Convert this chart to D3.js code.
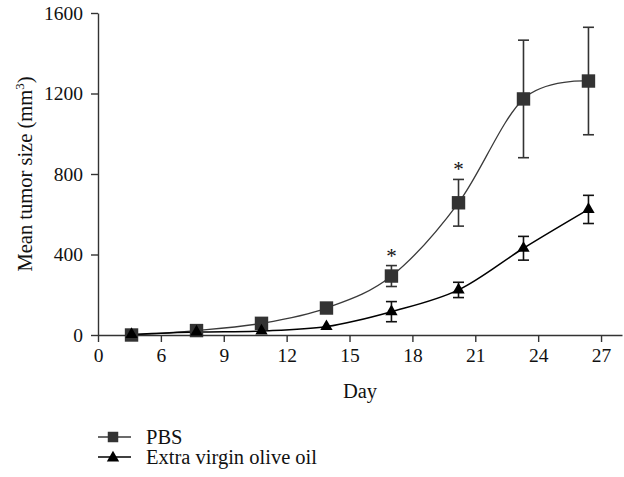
<!DOCTYPE html>
<head>
<meta charset="utf-8">
<style>
  body { margin: 0; background: #fff; }
  svg text { font-family: "Liberation Serif", "DejaVu Serif", serif; fill: #111; }
</style>
</head>
<body>
  <svg width="624" height="477"></svg>

  <script src="https://d3js.org/d3.v7.min.js"></script>
  <script>
  const days = [4.6, 7.7, 10.8, 13.9, 17.0, 20.2, 23.3, 26.4];
  const pbsMean = [0, 22, 58, 134, 293, 657, 1173, 1262];
  const pbsErr = [0, 0, 0, 0, 52, 116, 292, 267];
  const oilMean = [3, 15, 20, 42, 116, 224, 431, 624];
  const oilErr = [0, 0, 0, 0, 50, 38, 59, 70];
  const starred = [4, 5]; // PBS points with *
  const xTickValues = [3, 6, 9, 12, 15, 18, 21, 24, 27];
  const xTickLabels = ['0', '6', '9', '12', '15', '18', '21', '24', '27'];
  const yTickValues = [0, 400, 800, 1200, 1600];
  const seriesNames = ['PBS', 'Extra virgin olive oil'];

  const svg = d3.select('svg');
  const x = d3.scaleLinear().domain([3, 28]).range([98, 622]);
  const y = d3.scaleLinear().domain([0, 1600]).range([335, 13]);

  // axes
  const xAxis = svg.append('g')
    .attr('transform', 'translate(0,335)')
    .call(d3.axisBottom(x).tickValues(xTickValues)
      .tickFormat((d, i) => xTickLabels[i]).tickSize(7).tickSizeOuter(0).tickPadding(6));
  const yAxis = svg.append('g')
    .attr('transform', 'translate(98,0)')
    .call(d3.axisLeft(y).tickValues(yTickValues).tickFormat(d3.format('d'))
      .tickSize(7).tickSizeOuter(0).tickPadding(8));
  [xAxis, yAxis].forEach(g => {
    g.selectAll('path, line').attr('stroke', '#333').attr('stroke-width', 1.4);
    g.selectAll('text').style('font-size', '19.5px').attr('fill', '#111');
  });

  const ylab = svg.append('text')
    .attr('transform', 'translate(32,174) rotate(-90)')
    .attr('text-anchor', 'middle')
    .style('font-size', '20.5px');
  ylab.append('tspan').text('Mean tumor size (mm');
  ylab.append('tspan').attr('dy', -8).style('font-size', '13px').text('3');
  ylab.append('tspan').attr('dy', 8).text(')');

  svg.append('text')
    .attr('x', 360).attr('y', 398)
    .attr('text-anchor', 'middle')
    .style('font-size', '20.5px')
    .text('Day');

  const line = d3.line().curve(d3.curveCardinal)
    .x((d, i) => x(days[i])).y(d => y(d));

  // lines
  svg.append('path').datum(pbsMean).attr('d', line)
    .attr('fill', 'none').attr('stroke', '#3a3a3a').attr('stroke-width', 1.3);
  svg.append('path').datum(oilMean).attr('d', line)
    .attr('fill', 'none').attr('stroke', '#000').attr('stroke-width', 1.5);

  // error bars
  const errorBars = (mean, err, color) => {
    const g = svg.append('g').attr('stroke', color).attr('stroke-width', 1.6);
    mean.forEach((m, i) => {
      if (!err[i]) return;
      const cx = x(days[i]);
      g.append('line').attr('x1', cx).attr('x2', cx)
        .attr('y1', y(m - err[i])).attr('y2', y(m + err[i]));
      [m - err[i], m + err[i]].forEach(v => {
        g.append('line').attr('x1', cx - 5.5).attr('x2', cx + 5.5)
          .attr('y1', y(v)).attr('y2', y(v));
      });
    });
  };
  errorBars(pbsMean, pbsErr, '#333');
  errorBars(oilMean, oilErr, '#111');

  // markers
  const square = d3.symbol().type(d3.symbolSquare).size(180);
  const triangle = d3.symbol().type(d3.symbolTriangle).size(66);
  svg.append('g').selectAll('path').data(pbsMean).join('path')
    .attr('d', square)
    .attr('transform', (d, i) => `translate(${x(days[i])},${y(d)})`)
    .attr('fill', '#333');
  svg.append('g').selectAll('path').data(oilMean).join('path')
    .attr('d', triangle)
    .attr('transform', (d, i) => `translate(${x(days[i])},${y(d)})`)
    .attr('fill', '#000');

  // asterisks
  svg.append('g').selectAll('text').data(starred).join('text')
    .attr('x', i => x(days[i]))
    .attr('y', i => y(pbsMean[i] + pbsErr[i]) - 3)
    .attr('text-anchor', 'middle')
    .style('font-size', '21px')
    .text('*');

  // legend
  const legend = svg.append('g');
  seriesNames.forEach((name, i) => {
    const ly = 437 + i * 20;
    legend.append('line').attr('x1', 98).attr('x2', 131).attr('y1', ly).attr('y2', ly)
      .attr('stroke', i ? '#000' : '#3a3a3a').attr('stroke-width', 1.4);
    legend.append('path')
      .attr('d', i ? triangle() : d3.symbol().type(d3.symbolSquare).size(110)())
      .attr('transform', `translate(113,${ly + (i ? 1 : 0)})`)
      .attr('fill', i ? '#000' : '#333');
    legend.append('text').attr('x', 146).attr('y', ly + 7)
      .style('font-size', '20.5px').text(name);
  });
  </script>
</body>
</html>
